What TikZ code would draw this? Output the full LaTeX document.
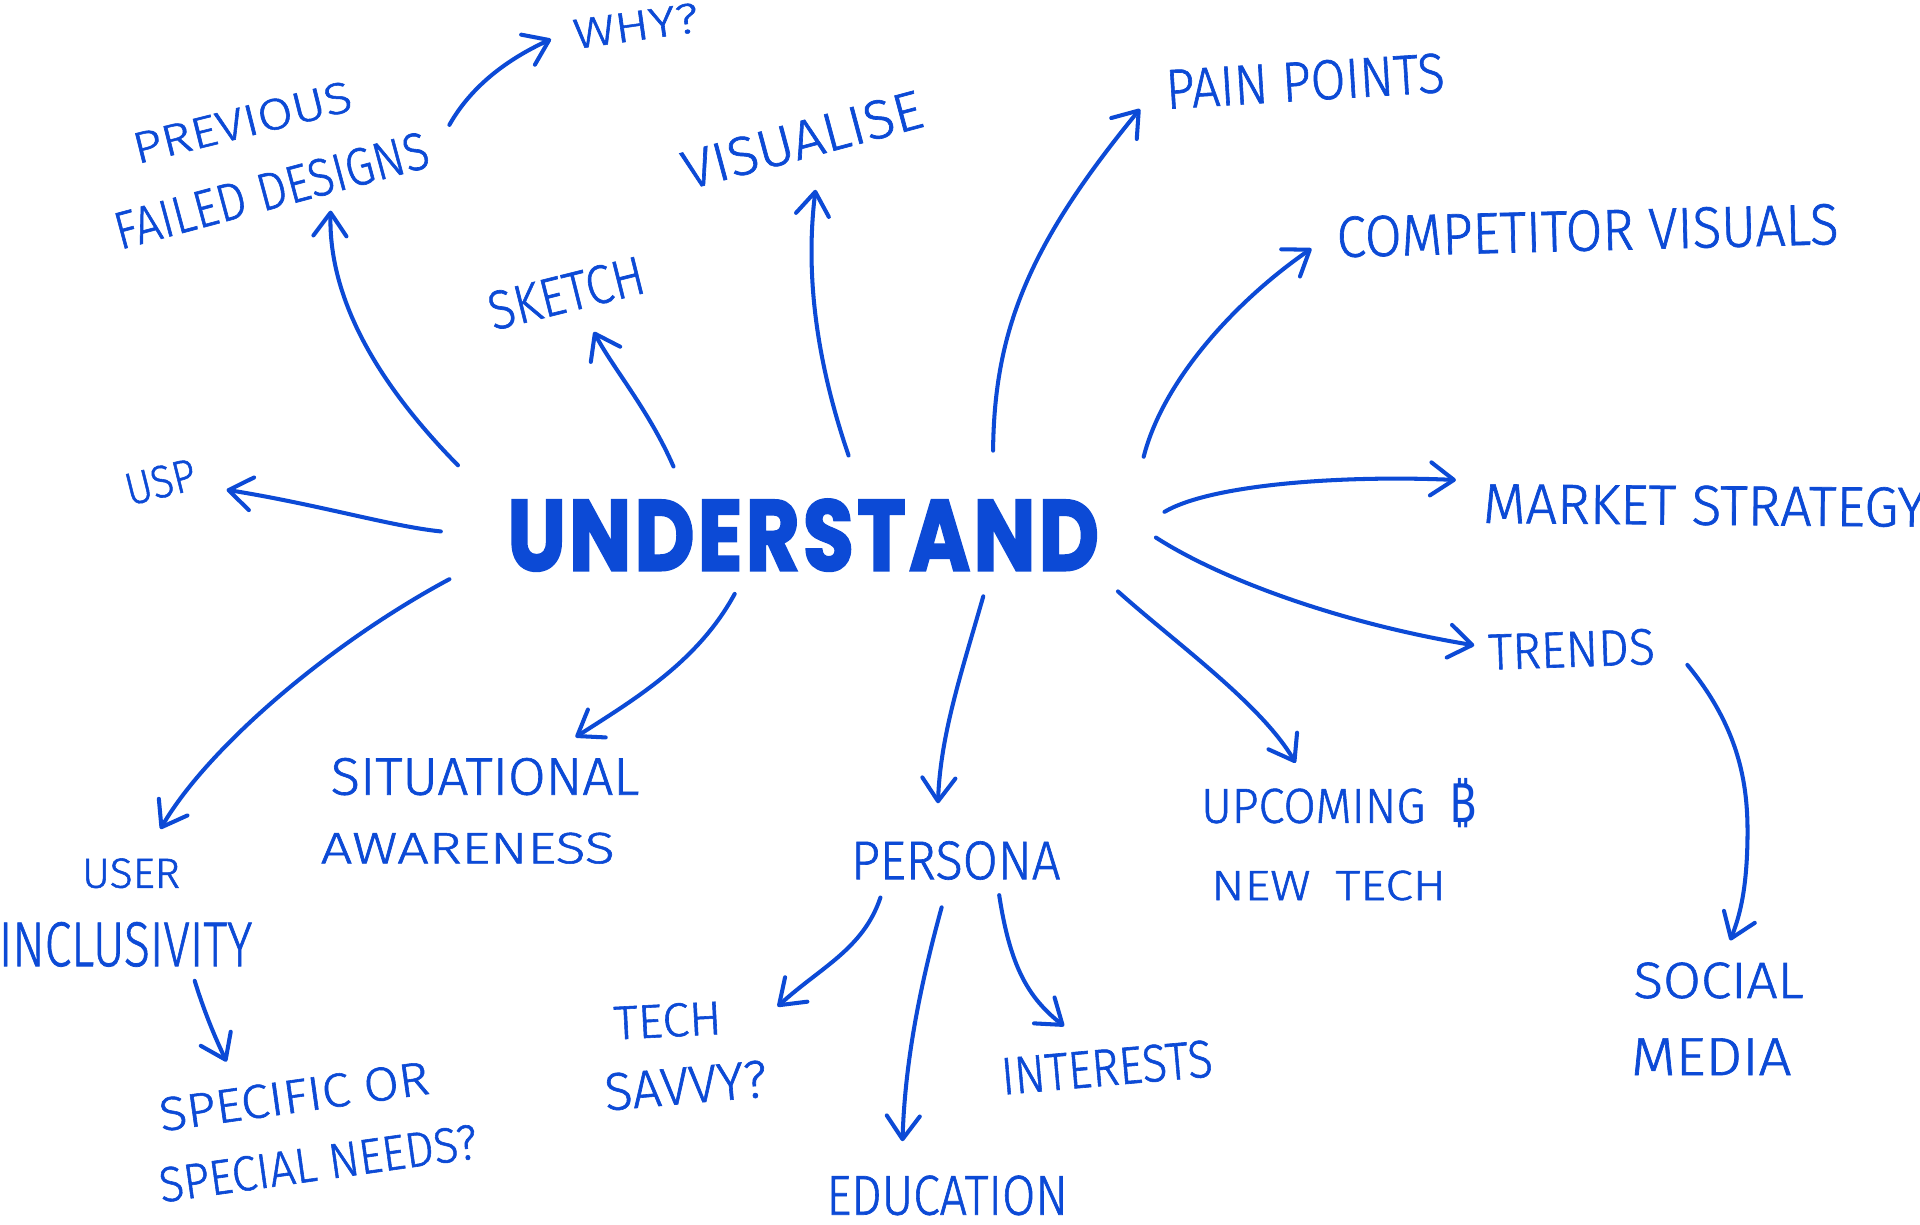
\documentclass[tikz,border=0pt]{standalone}
\usepackage{fontspec}
\usepackage{graphicx}
\usetikzlibrary{arrows.meta}
\newfontfamily\handfont{Fira Sans Light}[FakeBold=1.2]
\newfontfamily\boldfont{Poppins}[BoldFeatures={FakeBold=2.5}]
\newfontfamily\btcfont{Noto Sans}
\definecolor{ink}{RGB}{12,74,214}
\newlength\myu
\setlength\myu{0.5pt}
\newcommand\hw[3]{\resizebox{#1\myu}{#2\myu}{\handfont #3}}
\tikzset{
  lbl/.style={inner sep=0pt, outer sep=0pt, text=ink, anchor=base west},
  arr/.style={draw=ink, line width=1.65pt, line cap=round, line join=round,
    -{Straight Barb[length=9.5pt,width=13.5pt,round]}},
}
\begin{document}
\begin{tikzpicture}[x=0.5pt,y=-0.5pt]
\fill[white] (0,0) rectangle (1568,1000);
\useasboundingbox (0,0) rectangle (1568,1000);

% centre
\node[inner sep=0pt, text=ink] (und) at (656,437)
  {\resizebox{483\myu}{58\myu}{\boldfont\bfseries U\kern.04em N\kern.04em D\kern.04em E\kern.04em R\kern.04em S\kern.04em T\kern.04em A\kern.04em N\kern.04em D}};

% labels
\node[lbl, rotate=14] (prev) at (112,134) {\hw{183}{25}{PREVIOUS}};
\node[lbl, rotate=15] (fail) at (98,204) {\hw{264}{30}{FAILED DESIGNS}};
\node[lbl, rotate=8] (why) at (470,40) {\hw{103}{24}{WHY?}};
\node[lbl, rotate=15] (vis) at (562,155) {\hw{201}{31}{VISUALISE}};
\node[lbl, rotate=14] (sketch) at (403,270) {\hw{130}{31}{SKETCH}};
\node[lbl, rotate=14] (usp) at (106,413) {\hw{58}{26}{USP}};
\node[lbl, rotate=3.5] (pain) at (953,89) {\hw{228}{32}{PAIN POINTS}};
\node[lbl, rotate=1.5] (comp) at (1092,210) {\hw{410}{33}{COMPETITOR VISUALS}};
\node[lbl, rotate=-0.5] (market) at (1211,427) {\hw{362}{32}{MARKET STRATEGY}};
\node[lbl, rotate=2] (trends) at (1216,547) {\hw{136}{29}{TRENDS}};
\node[lbl] (upc) at (981,672) {\hw{183}{28}{UPCOMING}\hspace{20\myu}\resizebox{22\myu}{36\myu}{\btcfont ₿}};
\node[lbl] (newtech) at (989,735) {\hw{192}{24}{NEW\hspace{0.5em}TECH}};
\node[lbl] (social) at (1334,815) {\hw{139}{29}{SOCIAL}};
\node[lbl] (media) at (1332,878) {\hw{131}{30}{MEDIA}};
\node[lbl, rotate=5] (inter) at (819,894) {\hw{173}{30}{INTERESTS}};
\node[lbl] (edu) at (675,992) {\hw{197}{32}{EDUCATION}};
\node[lbl] (persona) at (695,718) {\hw{171}{31}{PERSONA}};
\node[lbl, rotate=3] (tech) at (502,849) {\hw{88}{27}{TECH}};
\node[lbl, rotate=5] (savvy) at (495,907) {\hw{133}{30}{SAVVY?}};
\node[lbl] (situ) at (270,649) {\hw{252}{30}{SITUATIONAL}};
\node[lbl] (aware) at (262,705) {\hw{240}{25}{AWARENESS}};
\node[lbl] (user) at (67,725) {\hw{80}{24}{USER}};
\node[lbl] (incl) at (-1,789) {\hw{207}{36}{INCLUSIVITY}};
\node[lbl, rotate=8] (spec) at (132,924) {\hw{222}{27}{SPECIFIC OR}};
\node[lbl, rotate=8] (needs) at (132,982) {\hw{262}{28}{SPECIAL NEEDS?}};

% connector end points
\coordinate (s-usp) at (360,434);   \coordinate (e-usp) at (185,400);
\coordinate (s-fail) at (374,380);  \coordinate (e-fail) at (270,172);
\coordinate (s-sk) at (550,381);    \coordinate (e-sk) at (485,271);
\coordinate (s-vis) at (693,372);   \coordinate (e-vis) at (666,155);
\coordinate (s-why) at (367,102);   \coordinate (e-why) at (450,32);
\coordinate (s-pain) at (811,368);  \coordinate (e-pain) at (931,89);
\coordinate (s-comp) at (934,373);  \coordinate (e-comp) at (1071,203);
\coordinate (s-mkt) at (951,418);   \coordinate (e-mkt) at (1189,392);
\coordinate (s-tr) at (944,439);    \coordinate (e-tr) at (1204,527);
\coordinate (s-soc) at (1378,543);  \coordinate (e-soc) at (1413,768);
\coordinate (s-upc) at (913,483);   \coordinate (e-upc) at (1058,623);
\coordinate (s-per) at (803,487);   \coordinate (e-per) at (766,656);
\coordinate (s-sit) at (600,485);   \coordinate (e-sit) at (470,602);
\coordinate (s-inc) at (367,473);   \coordinate (e-inc) at (131,677);
\coordinate (s-spec) at (159,801);  \coordinate (e-spec) at (185,867);
\coordinate (s-tech) at (719,733);  \coordinate (e-tech) at (635,822);
\coordinate (s-edu) at (769,741);   \coordinate (e-edu) at (737,932);
\coordinate (s-int) at (816,731);   \coordinate (e-int) at (869,838);

% connectors
\draw[arr] (s-usp) .. controls (320,430) and (260,412) .. (e-usp);
\draw[arr] (s-fail) .. controls (310,315) and (268,245) .. (e-fail);
\draw[arr] (s-sk) .. controls (530,335) and (500,300) .. (e-sk);
\draw[arr] (s-vis) .. controls (665,290) and (658,220) .. (e-vis);
\draw[arr] (s-why) .. controls (385,70) and (415,48) .. (e-why);
\draw[arr] (s-pain) .. controls (812,270) and (840,200) .. (e-pain);
\draw[arr] (s-comp) .. controls (950,310) and (1010,245) .. (e-comp);
\draw[arr] (s-mkt) .. controls (990,395) and (1100,388) .. (e-mkt);
\draw[arr] (s-tr) .. controls (1000,475) and (1100,510) .. (e-tr);
\draw[arr] (s-soc) .. controls (1425,600) and (1428,650) .. (1427,690) .. controls (1426,730) and (1420,750) .. (e-soc);
\draw[arr] (s-upc) .. controls (960,525) and (1030,575) .. (e-upc);
\draw[arr] (s-per) .. controls (785,550) and (768,600) .. (e-per);
\draw[arr] (s-sit) .. controls (570,540) and (520,570) .. (e-sit);
\draw[arr] (s-inc) .. controls (270,525) and (170,610) .. (e-inc);
\draw[arr] (s-spec) .. controls (168,830) and (177,850) .. (e-spec);
\draw[arr] (s-tech) .. controls (705,775) and (670,790) .. (e-tech);
\draw[arr] (s-edu) .. controls (750,810) and (739,870) .. (e-edu);
\draw[arr] (s-int) .. controls (825,790) and (840,815) .. (e-int);
\end{tikzpicture}
\end{document}
